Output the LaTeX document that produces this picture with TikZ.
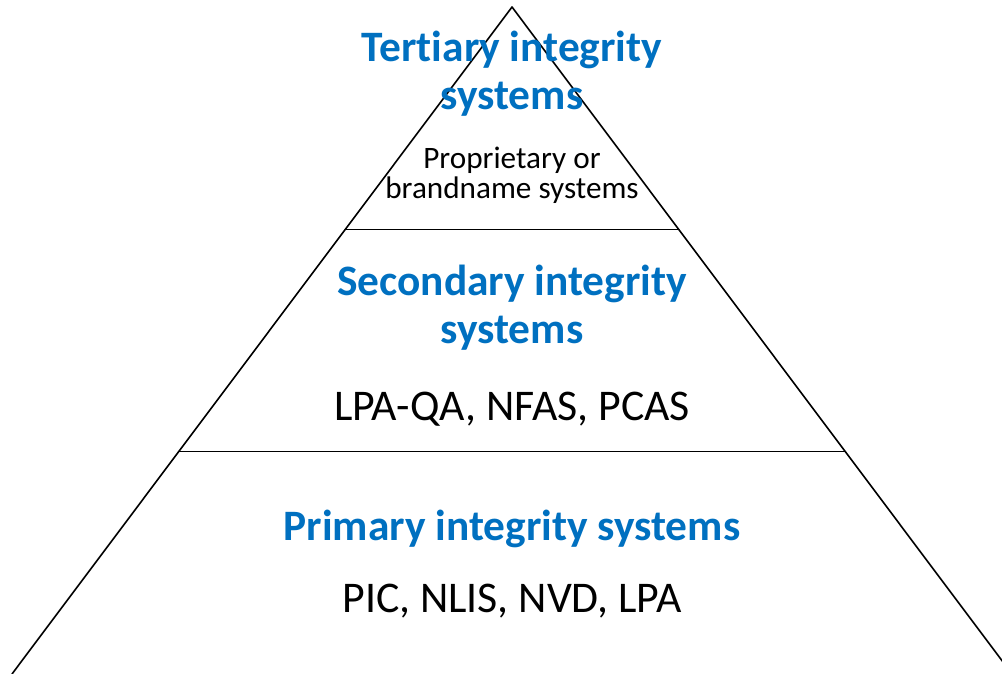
\documentclass[tikz,border=0pt]{standalone}
\usepackage{fontspec}
\setmainfont{Carlito}[Ligatures=NoCommon]
\usetikzlibrary{calc}
\definecolor{tierblue}{HTML}{0070C0}

\begin{document}
\begin{tikzpicture}[x=1pt, y=-1pt, line join = round, line cap = round,
    tier/.style={anchor=base, align=center, inner sep=0pt, text=tierblue, font=\bfseries\fontsize{43.4}{48}\selectfont},
    members/.style={anchor=base, align=center, inner sep=0pt, font=\fontsize{43.8}{48}\selectfont},
    small/.style={anchor=base, align=center, inner sep=0pt, font=\fontsize{31.2}{31}\selectfont}]
      \useasboundingbox (0,0) rectangle (1002,674);
      \coordinate (top) at (512,7);
      \coordinate (bl) at (12,674);
      \coordinate (br) at (1012,674);
      \coordinate (l1) at ($(top)!1/3!(bl)$);
      \coordinate (r1) at ($(top)!1/3!(br)$);
      \coordinate (l2) at ($(top)!2/3!(bl)$);
      \coordinate (r2) at ($(top)!2/3!(br)$);

      \begin{scope}
        \clip (0,0) rectangle (1002,674);
        \draw [line width=1.6pt] (bl) -- (top) -- (br);
        \draw [line width=1.6pt] (l1) -- (r1);
        \draw [line width=1.6pt] (l2) -- (r2);
      \end{scope}

      % top tier (base sits on the last line)
      \node [tier] (tertiary) at (512,110) {Tertiary integrity\\systems};
      \node [small] (brand) at (512,199) {Proprietary or\\brandname systems};
      % middle tier
      \node [tier] (secondary) at (512,343) {Secondary integrity\\systems};
      \node [members] (qa) at (512,420) {LPA-QA, NFAS, PCAS};
      % bottom tier
      \node [tier] (primary) at (512,540) {Primary integrity systems};
      \node [members] (pic) at (512,612) {PIC, NLIS, NVD, LPA};
\end{tikzpicture}
\end{document}
